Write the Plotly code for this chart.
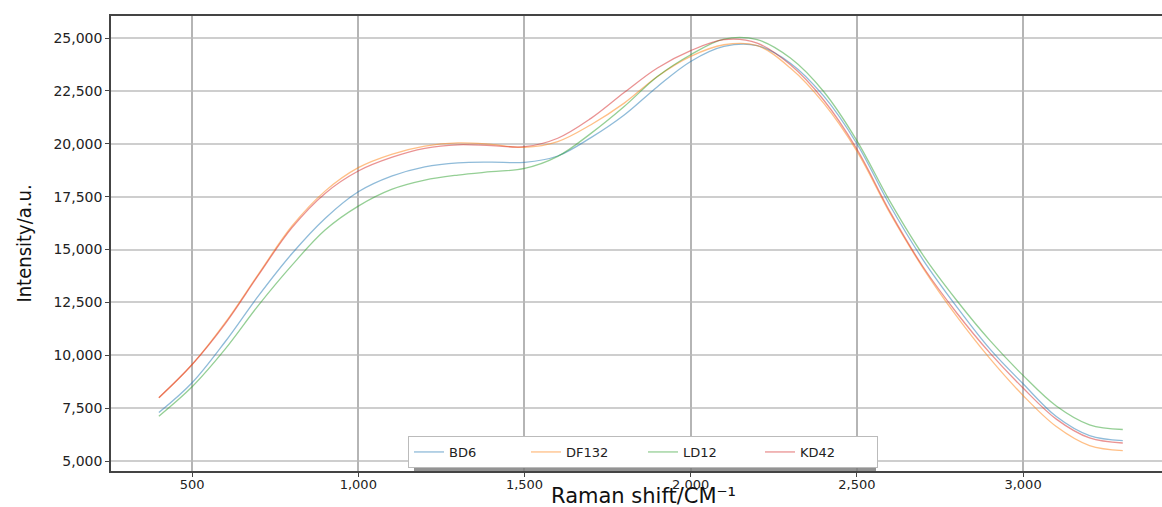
import plotly.graph_objects as go

raman_shift = [400, 500, 600, 700, 800, 900, 1000, 1100, 1200, 1300, 1400, 1500,
               1600, 1700, 1800, 1900, 2000, 2100, 2200, 2300, 2400, 2500, 2600,
               2700, 2800, 2900, 3000, 3100, 3200, 3300]

bd6 = [7290, 8700, 10650, 12820, 14800, 16470, 17730, 18470, 18910, 19100, 19130, 19120,
       19420, 20290, 21360, 22700, 23890, 24600, 24640, 23810, 22260, 20000, 17070,
       14490, 12300, 10300, 8650, 7100, 6200, 5960]
df132 = [7990, 9560, 11550, 13850, 16100, 17760, 18870, 19500, 19890, 20040, 19970, 19830,
         20100, 20900, 21920, 23180, 24130, 24680, 24640, 23580, 21920, 19650, 16700,
         14100, 11850, 9850, 8100, 6630, 5730, 5490]
ld12 = [7120, 8510, 10300, 12370, 14250, 15920, 17050, 17840, 18280, 18520, 18680, 18830,
        19400, 20490, 21760, 23180, 24210, 24950, 24920, 24050, 22470, 20150, 17260,
        14710, 12600, 10700, 9050, 7600, 6710, 6490]
kd42 = [7990, 9560, 11500, 13800, 16020, 17650, 18710, 19350, 19780, 19950, 19910, 19860,
        20260, 21200, 22420, 23580, 24400, 24920, 24760, 23730, 22070, 19750, 16780,
        14160, 12010, 10110, 8450, 6980, 6090, 5850]

series_names = ["BD6", "DF132", "LD12", "KD42"]
series_values = [bd6, df132, ld12, kd42]
series_colors = ["rgba(31,119,180,0.5)", "rgba(255,127,14,0.5)",
                 "rgba(44,160,44,0.5)", "rgba(214,39,40,0.5)"]

x_ticks = [500, 1000, 1500, 2000, 2500, 3000]
y_ticks = [5000, 7500, 10000, 12500, 15000, 17500, 20000, 22500, 25000]

x_title = "Raman shift/CM⁻¹"
y_title = "Intensity/a.u."

fig = go.Figure()
for name, vals, col in zip(series_names, series_values, series_colors):
    fig.add_trace(go.Scatter(x=raman_shift, y=vals, name=name, mode="lines",
                             line=dict(color=col, width=1.3, shape="spline", smoothing=1.0)))

W, H = 1162, 507
ml, mt = 111, 16
mb = H - 471
mr = 0

def px_x(p):
    return (p - ml) / (W - ml - mr)

def px_y(p):
    return (H - mb - p) / (H - mt - mb)

# legend shadow
fig.add_shape(type="rect", xref="paper", yref="paper",
              x0=px_x(414), x1=px_x(876), y0=px_y(471), y1=px_y(450),
              fillcolor="rgba(120,120,120,0.8)", line=dict(width=0), layer="above")

# x-axis title as annotation (placed below tick labels)
fig.add_annotation(text=x_title, xref="paper", yref="paper",
                   x=px_x(643), y=px_y(496), xanchor="center", yanchor="middle",
                   showarrow=False,
                   font=dict(size=21, family="DejaVu Sans", color="#111111"))

fig.update_layout(
    width=W, height=H,
    margin=dict(l=ml, r=mr, t=mt, b=mb, autoexpand=False),
    paper_bgcolor="white", plot_bgcolor="white",
    font=dict(family="DejaVu Sans", color="#222222"),
    xaxis=dict(range=[256, 3418], tickvals=x_ticks, tickformat=",d",
               showgrid=True, gridcolor="rgba(150,150,150,0.7)", gridwidth=1.8,
               showline=True, linecolor="#444444", linewidth=1.5, mirror=True,
               ticks="outside", ticklen=4, tickcolor="#444444",
               ticklabelstandoff=-3,
               tickfont=dict(size=13, family="DejaVu Sans", color="#222222"),
               zeroline=False, automargin=False),
    yaxis=dict(range=[4527, 26040], tickvals=y_ticks, tickformat=",d",
               showgrid=True, gridcolor="rgba(185,185,185,0.7)", gridwidth=1.5,
               showline=True, linecolor="#444444", linewidth=1.5, mirror=False,
               ticks="outside", ticklen=4, tickcolor="#444444",
               tickfont=dict(size=14, family="DejaVu Sans", color="#222222"),
               zeroline=False, automargin=False,
               title=dict(text=y_title,
                          font=dict(size=20, family="Liberation Sans Narrow, DejaVu Sans Condensed, sans-serif",
                                    color="#111111"),
                          standoff=16)),
    legend=dict(orientation="h", x=px_x(643), xanchor="center", y=px_y(468), yanchor="bottom",
                bgcolor="white", bordercolor="#bbbbbb", borderwidth=1,
                font=dict(size=13, family="DejaVu Sans", color="#222222"),
                entrywidth=72, tracegroupgap=0),
    showlegend=True,
)

fig.write_html("out.html", config={"displayModeBar": False},
               post_script="document.body.style.margin='0';document.body.style.overflow='hidden';")
